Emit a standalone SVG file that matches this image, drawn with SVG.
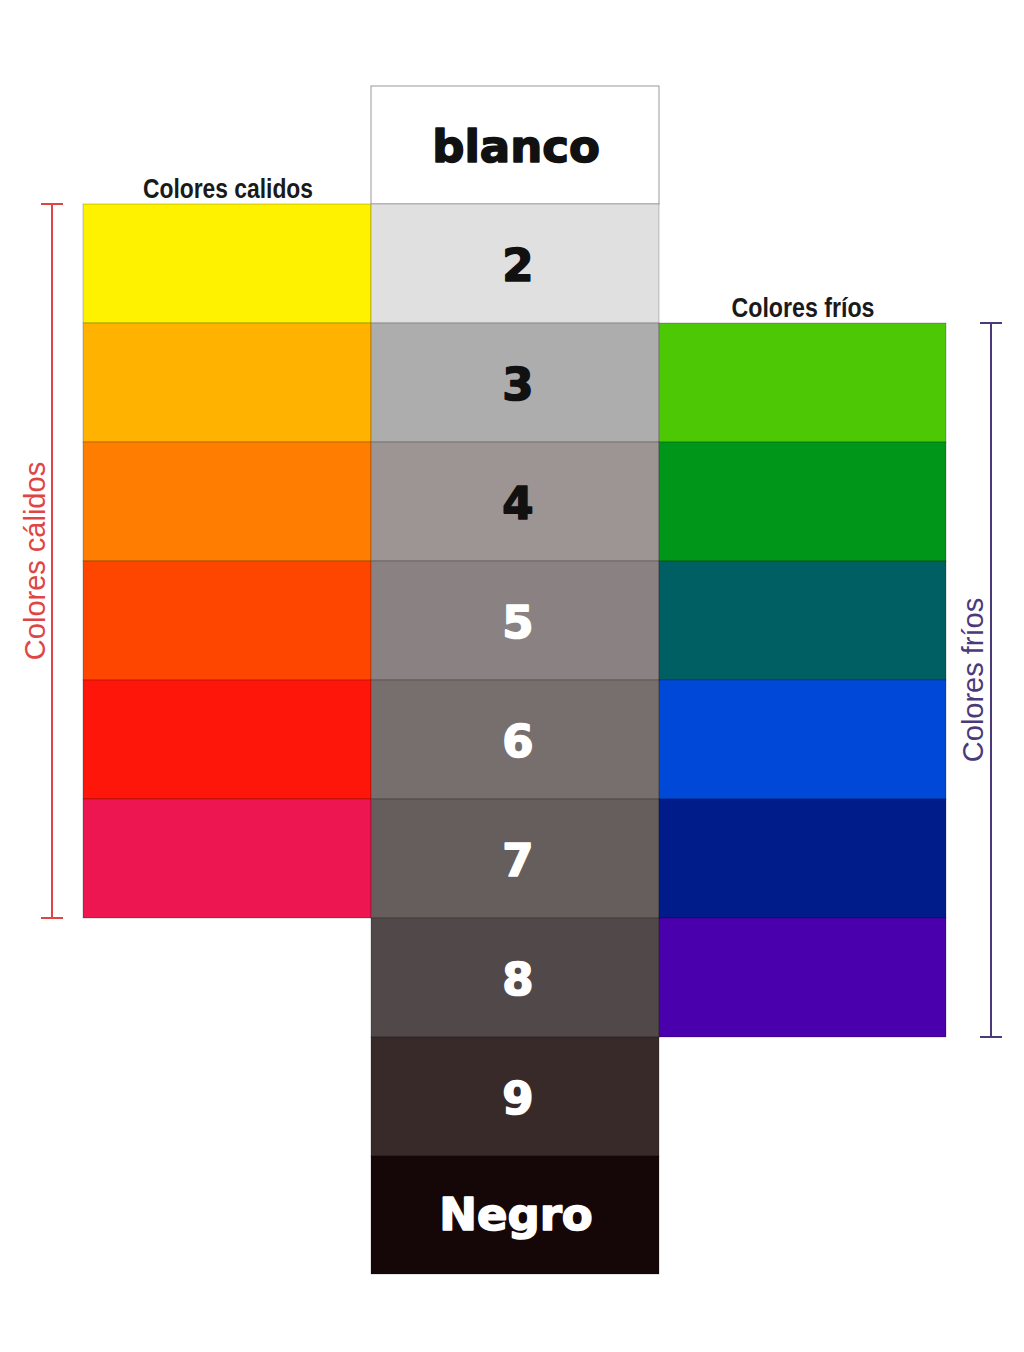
<svg xmlns="http://www.w3.org/2000/svg" width="1024" height="1352" viewBox="0 0 1024 1352">
<style>
.cell{stroke:rgba(0,0,0,0.22);stroke-width:1}
.num{font-family:"DejaVu Sans","Liberation Sans",sans-serif;font-weight:bold;font-size:45px;text-anchor:middle;stroke-width:1.6;stroke-linejoin:round}
.dark{fill:#111;stroke:#111}
.light{fill:#fff;stroke:#fff}
.head{font-family:"Liberation Sans",Arial,sans-serif;font-weight:bold;font-size:27px;fill:#1a1a1a;text-anchor:middle}
.side{font-family:"Liberation Sans",Arial,sans-serif;font-size:29px;text-anchor:middle}
</style>
<rect width="1024" height="1352" fill="#fff"/>

<g id="warm">
<rect class="cell" x="83" y="204" width="288" height="119" fill="#fff200"/>
<rect class="cell" x="83" y="323" width="288" height="119" fill="#ffb200"/>
<rect class="cell" x="83" y="442" width="288" height="119" fill="#ff7d00"/>
<rect class="cell" x="83" y="561" width="288" height="119" fill="#ff4600"/>
<rect class="cell" x="83" y="680" width="288" height="119" fill="#ff160a"/>
<rect class="cell" x="83" y="799" width="288" height="119" fill="#ee1650"/>
</g>

<g id="grays">
<rect x="371" y="86" width="288" height="118" fill="#ffffff" stroke="#aaa" stroke-width="1.2"/>
<rect class="cell" x="371" y="204" width="288" height="119" fill="#e0e0e0"/>
<rect class="cell" x="371" y="323" width="288" height="119" fill="#adadad"/>
<rect class="cell" x="371" y="442" width="288" height="119" fill="#9c9594"/>
<rect class="cell" x="371" y="561" width="288" height="119" fill="#8a8282"/>
<rect class="cell" x="371" y="680" width="288" height="119" fill="#766f6e"/>
<rect class="cell" x="371" y="799" width="288" height="119" fill="#665d5d"/>
<rect class="cell" x="371" y="918" width="288" height="119" fill="#51484a"/>
<rect class="cell" x="371" y="1037" width="288" height="119" fill="#372a28"/>
<rect class="cell" x="371" y="1156" width="288" height="118" fill="#150707"/>
<text class="num dark" x="516" y="162">blanco</text>
<text class="num dark" x="518" y="281">2</text>
<text class="num dark" x="518" y="400">3</text>
<text class="num dark" x="518" y="519">4</text>
<text class="num light" x="518" y="638">5</text>
<text class="num light" x="518" y="757">6</text>
<text class="num light" x="518" y="876">7</text>
<text class="num light" x="518" y="995">8</text>
<text class="num light" x="518" y="1114">9</text>
<text class="num light" x="516" y="1230">Negro</text>
</g>

<g id="cool">
<rect class="cell" x="659" y="323" width="287" height="119" fill="#4dc805"/>
<rect class="cell" x="659" y="442" width="287" height="119" fill="#00961a"/>
<rect class="cell" x="659" y="561" width="287" height="119" fill="#005f63"/>
<rect class="cell" x="659" y="680" width="287" height="119" fill="#0049d8"/>
<rect class="cell" x="659" y="799" width="287" height="119" fill="#001b8a"/>
<rect class="cell" x="659" y="918" width="287" height="119" fill="#4a00ad"/>
</g>

<g id="labels">
<text class="head" x="228" y="198" textLength="170" lengthAdjust="spacingAndGlyphs">Colores calidos</text>
<text class="head" x="803" y="317" textLength="143" lengthAdjust="spacingAndGlyphs">Colores fríos</text>
</g>

<g id="connectors" fill="none" stroke-width="2">
<g stroke="#e04545">
<line x1="52" y1="204" x2="52" y2="918"/>
<line x1="41" y1="204" x2="63" y2="204"/>
<line x1="41" y1="918" x2="63" y2="918"/>
</g>
<g stroke="#4b3a7a">
<line x1="991" y1="323" x2="991" y2="1037"/>
<line x1="980" y1="323" x2="1002" y2="323"/>
<line x1="980" y1="1037" x2="1002" y2="1037"/>
</g>
</g>

<g id="side-labels">
<text class="side" fill="#e04545" transform="translate(45,561) rotate(-90)">Colores cálidos</text>
<text class="side" fill="#4b3a7a" transform="translate(983,680) rotate(-90)">Colores fríos</text>
</g>
</svg>
